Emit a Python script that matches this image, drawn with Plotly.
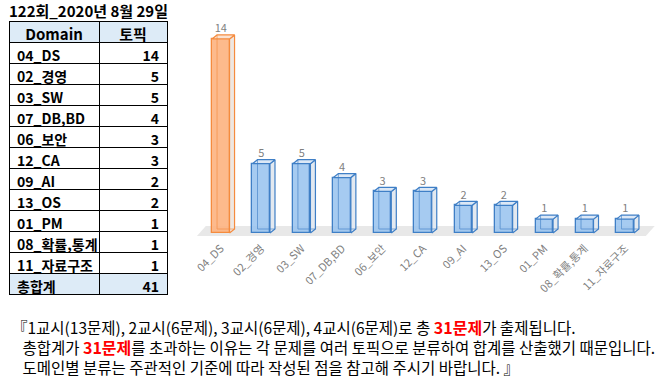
import plotly.graph_objects as go

# ---------------- data ----------------
title_text = "122회_2020년 8월 29일"
header = ["Domain", "토픽"]
domains = ["04_DS", "02_경영", "03_SW", "07_DB,BD", "06_보안", "12_CA",
           "09_AI", "13_OS", "01_PM", "08_확률,통계", "11_자료구조"]
topics = [14, 5, 5, 4, 3, 3, 2, 2, 1, 1, 1]
total_label = "총합계"
highlight = ["04_DS"]

note_lines = [
    "『1교시(13문제), 2교시(6문제), 3교시(6문제), 4교시(6문제)로 총 {R}가 출제됩니다.",
    "총합계가 {R}를 초과하는 이유는 각 문제를 여러 토픽으로 분류하여 합계를 산출했기 때문입니다.",
    "도메인별 분류는 주관적인 기준에 따라 작성된 점을 참고해 주시기 바랍니다. 』",
]
red_text = "31문제"

# ---------------- style ----------------
W_PX, H_PX = 670, 380
FONT = "Noto Sans CJK KR"
GREY = "#7F7F7F"
BLUE_EDGE = "#3F7FC6"
BLUE_FACE = "rgba(150,194,238,0.85)"
BLUE_SIDE = "#E3E9F0"
BLUE_TOP = "#DCE8F6"
OR_EDGE = "#F58B3E"
OR_FACE = "rgba(253,178,128,0.9)"
OR_SIDE = "#EEE7E2"
OR_TOP = "#FBE2D0"
FLOOR = "#E8E8E8"

# pixel geometry of plot area
X_DOM = (190, 660)
Y_DOM = (20, 239)       # top, bottom in px
X_C0, X_UNIT = 220.8, 40.44   # px of category 0 center, px per category
Y_Z0, Y_UNIT = 233.0, 13.86   # px of value 0, px per unit

def px2x(p):
    return (p - X_C0) / X_UNIT

def px2y(p):
    return (Y_Z0 - p) / Y_UNIT

BW = 17.5 / X_UNIT          # bar width in x units
DX = 5.0 / X_UNIT           # depth offsets
DY = 4.0 / Y_UNIT

n = len(domains)
xs = list(range(n))

fig = go.Figure()

# ---- front faces (bars) ----
is_hi = [d in highlight for d in domains]
fig.add_trace(go.Bar(
    x=xs, y=topics, width=BW,
    marker=dict(color=[OR_FACE if h else BLUE_FACE for h in is_hi],
                line=dict(color=[OR_EDGE if h else BLUE_EDGE for h in is_hi], width=1.3)),
    hoverinfo="skip", showlegend=False, xaxis="x", yaxis="y",
))

# ---- side, top faces and visible back edges ----
for i, v in enumerate(topics):
    edge = OR_EDGE if is_hi[i] else BLUE_EDGE
    side = OR_SIDE if is_hi[i] else BLUE_SIDE
    top = OR_TOP if is_hi[i] else BLUE_TOP
    l, r = i - BW / 2, i + BW / 2
    fig.add_trace(go.Scatter(
        x=[r, r + DX, r + DX, r, r], y=[0, DY, v + DY, v, 0],
        mode="lines", fill="toself", fillcolor=side,
        line=dict(color=edge, width=1.2), hoverinfo="skip", showlegend=False))
    fig.add_trace(go.Scatter(
        x=[l, r, r + DX, l + DX, l], y=[v, v, v + DY, v + DY, v],
        mode="lines", fill="toself", fillcolor=top,
        line=dict(color=edge, width=1.2), hoverinfo="skip", showlegend=False))
    fig.add_trace(go.Scatter(
        x=[l + DX, l + DX, None, l + DX, r + DX], y=[v + DY, DY, None, DY, DY],
        mode="lines", line=dict(color=edge, width=0.9), opacity=0.7,
        hoverinfo="skip", showlegend=False))

# ---- value labels ----
fig.add_trace(go.Scatter(
    x=xs, y=[v + DY for v in topics], mode="text",
    text=[str(v) for v in topics], textposition="top center",
    textfont=dict(family=FONT, size=11, color=GREY),
    hoverinfo="skip", showlegend=False, cliponaxis=False))

# ---- floor ----
fy0, fy1 = px2y(236), px2y(226)
fl0, fl1 = -0.59, (n - 1) + 0.51
fig.add_shape(type="path", xref="x", yref="y", layer="below",
              path=f"M {fl0},{fy0} L {fl1},{fy0} L {fl1 + 0.22},{fy1} L {fl0 + 0.22},{fy1} Z",
              fillcolor=FLOOR, line=dict(width=0))

# ---- table ----
row_h = 21
tbl_top, tbl_left, tbl_right = 21, 9, 167
n_rows = n + 2
fig.add_trace(go.Table(
    domain=dict(x=[tbl_left / W_PX, tbl_right / W_PX],
                y=[1 - (tbl_top + row_h * n_rows + 4) / H_PX, 1 - tbl_top / H_PX]),
    columnwidth=[90, 68],
    header=dict(values=header, height=row_h, fill_color="#DDEBF7",
                line=dict(color="black", width=1), align="center",
                font=dict(family=FONT, size=15, color="black", weight="bold")),
    cells=dict(values=[domains + [total_label], topics + [sum(topics)]],
               height=row_h,
               fill_color=[["white"] * n + ["#DDEBF7"]] * 2,
               line=dict(color="black", width=1),
               align=["left", "right"],
               font=dict(family=FONT, size=14, color="black", weight="bold")),
))

# ---- title over table ----
fig.add_annotation(x=(tbl_left + tbl_right) / 2 / W_PX, y=1 - 11 / H_PX,
                   xref="paper", yref="paper", showarrow=False,
                   text=f"<b>{title_text}</b>",
                   font=dict(family=FONT, size=15, color="black"),
                   xanchor="center", yanchor="middle")

# ---- note lines (one block) ----
red_html = f"<span style='color:#FF0000;font-size:16px'><b>{red_text}</b></span>"
indent = "&nbsp;" * 3
note_html = "<br>".join((indent if k else "") + t.replace("{R}", red_html)
                        for k, t in enumerate(note_lines))
fig.add_annotation(x=10 / W_PX, y=1 - 346 / H_PX, xref="paper", yref="paper",
                   showarrow=False, text=note_html, align="left",
                   font=dict(family=FONT, size=15.5, color="black"),
                   xanchor="left", yanchor="middle")

fig.update_layout(
    width=W_PX, height=H_PX, margin=dict(l=0, r=0, t=0, b=0),
    paper_bgcolor="white", plot_bgcolor="white",
    xaxis=dict(domain=[X_DOM[0] / W_PX, X_DOM[1] / W_PX],
               range=[px2x(X_DOM[0]), px2x(X_DOM[1])],
               tickvals=xs, ticktext=domains, tickangle=-45,
               tickfont=dict(family=FONT, size=11, color=GREY),
               showgrid=False, zeroline=False, showline=False, ticks=""),
    yaxis=dict(domain=[1 - Y_DOM[1] / H_PX, 1 - Y_DOM[0] / H_PX],
               range=[px2y(Y_DOM[1]), px2y(Y_DOM[0])],
               visible=False, showgrid=False, zeroline=False),
    bargap=0, showlegend=False,
)

fig.write_html("out.html", config={"displayModeBar": False},
               post_script="document.body.style.margin='0';document.body.style.overflow='hidden';")
